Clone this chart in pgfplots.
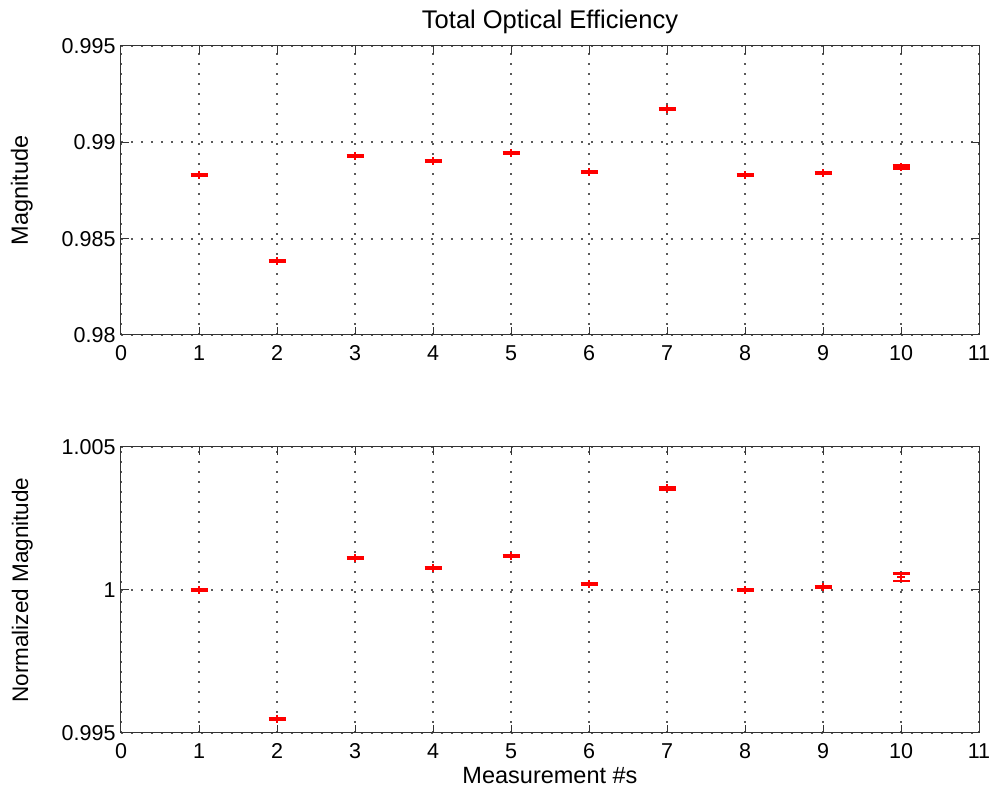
\documentclass[border=0pt]{standalone}
\usepackage{fontspec}
\setmainfont{Liberation Sans}
\usepackage{pgfplots}
\pgfplotsset{compat=1.18}
\begin{document}
\begin{tikzpicture}
\path[use as bounding box] (0pt,0pt) rectangle (1004pt,799pt);
\pgfplotsset{
  every axis/.style={
    scale only axis, width=858pt, xmin=0, xmax=11, xtick={0,1,...,11},
    axis line style={line width=1pt, black!80},
    tick style={line width=1pt, black!80},
    major tick length=8pt, tick align=inside,
    grid=major, grid style={line width=2pt, black!65, dash pattern=on 2pt off 8pt},
    tick label style={font=\fontsize{21.5}{23}\selectfont},
    label style={font=\fontsize{23.5}{26}\selectfont},
    title style={font=\fontsize{25.5}{27}\selectfont},
    /pgf/number format/assume math mode=true,
    /pgf/number format/fixed, /pgf/number format/precision=3,
    scaled y ticks=false,
    xticklabel style={yshift=-7pt},
    yticklabel style={xshift=-2pt},
  },
  ebar/.style={red, only marks, mark=+, mark size=4pt, mark options={line width=2.2pt},
    error bars/.cd, y dir=both, y explicit,
    error bar style={line width=1.8pt, red},
    error mark=-, error mark options={line width=2.6pt, mark size=8.5pt, rotate=90, red}},
}
\begin{axis}[at={(121pt,464pt)}, anchor=south west, height=289pt,
  ymin=0.98, ymax=0.995, ytick={0.98,0.985,0.99,0.995},
  title={Total Optical Efficiency}, title style={yshift=3pt},
  ylabel={Magnitude}, ylabel style={yshift=22pt}]
\addplot+[ebar] table[x=x, y=y, y error=e] {
x y e
1 0.98830 0.00004
2 0.98384 0.00004
3 0.98929 0.00004
4 0.98903 0.00004
5 0.98945 0.00004
6 0.98846 0.00004
7 0.99173 0.00004
8 0.98830 0.00004
9 0.98841 0.00004
10 0.98872 0.00008
};
\end{axis}
\begin{axis}[at={(121pt,66pt)}, anchor=south west, height=286pt,
  ymin=0.995, ymax=1.005, ytick={0.995,1,1.005},
  xlabel={Measurement \#s}, xlabel style={yshift=-2pt},
  ylabel={Normalized Magnitude}, ylabel style={yshift=22pt, font=\fontsize{22.5}{25}\selectfont}]
\addplot+[ebar] table[x=x, y=y, y error=e] {
x y e
1 1.00000 0.00003
2 0.99550 0.00003
3 1.00111 0.00003
4 1.00077 0.00003
5 1.00119 0.00004
6 1.00021 0.00003
7 1.00355 0.00003
8 1.00000 0.00003
9 1.00010 0.00003
10 1.00045 0.00013
};
\end{axis}
\end{tikzpicture}
\end{document}
